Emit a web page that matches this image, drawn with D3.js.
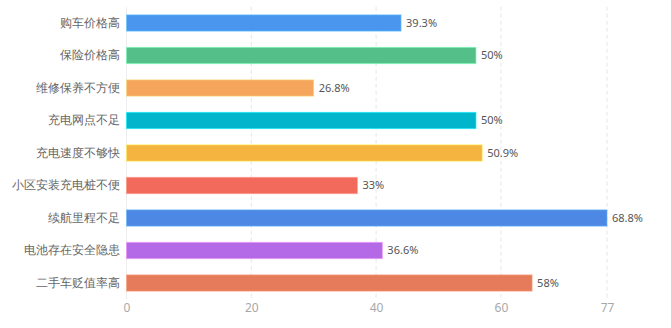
<!DOCTYPE html>
<html><head><meta charset="utf-8">
<script src="https://cdn.jsdelivr.net/npm/d3@7"></script>
<style>body{margin:0;background:#fff;}svg{display:block;font-family:"Noto Sans CJK SC","Noto Sans",sans-serif;}</style>
</head><body>
<svg id="c" width="671" height="328"></svg>
<script>
const categories = ["购车价格高","保险价格高","维修保养不方便","充电网点不足","充电速度不够快","小区安装充电桩不便","续航里程不足","电池存在安全隐患","二手车贬值率高"];
const counts = [44, 56, 30, 56, 57, 37, 77, 41, 65];
const percentLabels = ["39.3%","50%","26.8%","50%","50.9%","33%","68.8%","36.6%","58%"];
const colors = ["#4A95EE","#55BF8A","#F5A55C","#00B5CC","#F5B43F","#F26A5C","#4D89E4","#B46AE6","#E67B5C"];
const xTicks = [0, 20, 40, 60, 77];

const svg = d3.select("#c");
const m = {left: 126.5, right: 607, top: 6.75, bottom: 299.25};
const x = d3.scaleLinear().domain([0, 77]).range([m.left, m.right]);
const y = d3.scaleBand().domain(categories).range([m.top, m.bottom]).paddingInner(0.5).paddingOuter(0.25);

// grid lines
svg.append("g").selectAll("line").data(xTicks.filter(d => d > 0)).join("line")
  .attr("x1", d => x(d)).attr("x2", d => x(d))
  .attr("y1", m.top).attr("y2", m.bottom)
  .attr("stroke", "#e6e6e6").attr("stroke-dasharray", "4,3").attr("stroke-width", 1);
// baseline axis
svg.append("line").attr("x1", x(0)).attr("x2", x(0)).attr("y1", m.top).attr("y2", m.bottom)
  .attr("stroke", "#eeeeee").attr("stroke-width", 1);

// x axis labels
const xa = d3.axisBottom(x).tickValues(xTicks).tickSize(0).tickPadding(0);
const gx = svg.append("g").attr("transform", `translate(0,${m.bottom})`).call(xa);
gx.select(".domain").remove();
gx.selectAll("text").attr("fill", "#a8a8a8").attr("font-size", 12).attr("dy", "1.1em")
  .attr("font-family", "'Noto Sans', sans-serif");

// y axis labels
const ya = d3.axisLeft(y).tickSize(0).tickPadding(7);
const gy = svg.append("g").attr("transform", `translate(${m.left},0)`).call(ya);
gy.select(".domain").remove();
gy.selectAll("text").attr("fill", "#666").attr("font-size", 12);

// bars
svg.append("g").selectAll("rect").data(categories).join("rect")
  .attr("x", x(0)).attr("y", d => y(d))
  .attr("width", (d, i) => x(counts[i]) - x(0))
  .attr("height", y.bandwidth())
  .attr("fill", (d, i) => colors[i])
  .attr("stroke", (d, i) => d3.color(colors[i]).brighter(0.8))
  .attr("stroke-opacity", 0.6).attr("stroke-width", 1);

// value labels
svg.append("g").selectAll("text").data(categories).join("text")
  .attr("x", (d, i) => x(counts[i]) + 5)
  .attr("y", d => y(d) + y.bandwidth() / 2)
  .attr("dy", "0.35em")
  .attr("fill", "#555").attr("font-size", 11)
  .attr("font-family", "'Noto Sans', sans-serif")
  .text((d, i) => percentLabels[i]);
</script>
</body></html>
